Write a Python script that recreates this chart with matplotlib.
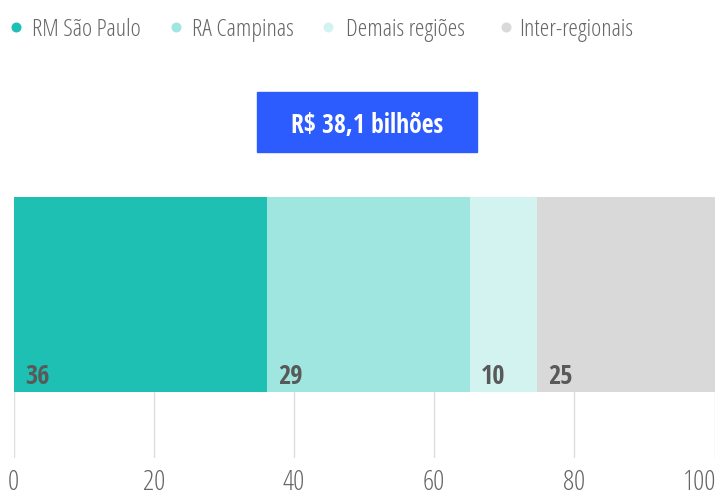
import matplotlib
matplotlib.use("Agg")
import matplotlib.pyplot as plt
from matplotlib import font_manager
from matplotlib.font_manager import FontProperties
from matplotlib.lines import Line2D
from matplotlib.transforms import blended_transform_factory

# dados do gráfico
categorias = ["RM São Paulo", "RA Campinas", "Demais regiões", "Inter-regionais"]
valores = [36.2, 28.9, 9.6, 25.3]
rotulos = ["36", "29", "10", "25"]
cores = ["#1dc0b2", "#a0e6e0", "#d3f3f0", "#d9d9d9"]
ticks = [0, 20, 40, 60, 80, 100]
total_txt = "R$ 38,1 bilhões"

W, H = 717, 493


def acha_fonte(arquivo, familia, peso):
    # procura o arquivo da fonte condensada; senão usa a família
    for f in font_manager.fontManager.ttflist:
        if f.fname.endswith(arquivo):
            return FontProperties(fname=f.fname)
    return FontProperties(family=familia, weight=peso)


fonte_leve = acha_fonte("OpenSans-CondLight.ttf", "Fira Sans Extra Condensed", "light")
fonte_negrito = acha_fonte("OpenSans-CondBold.ttf", "Fira Sans Extra Condensed", "bold")


def fp(base, tam):
    p = base.copy()
    p.set_size(tam)
    return p


fig = plt.figure(figsize=(W / 100, H / 100), dpi=100)
ax = fig.add_axes([13.7 / W, 1 - 458 / H, (714.6 - 13.7) / W, (458 - 197) / H])

base_barra = (458 - 392) / (458 - 197)
esq = 0
for v, c, r in zip(valores, cores, rotulos):
    ax.barh((base_barra + 1) / 2, v, left=esq, height=1 - base_barra, color=c, zorder=2)
    ax.text(esq + 1.6, (458 - 384.5) / (458 - 197), r, fontproperties=fp(fonte_negrito, 19),
            color="#595959", va="baseline", ha="left", zorder=3)
    esq += v

ax.set_xlim(0, 100)
ax.set_ylim(0, 1)
for t in ticks:
    ax.axvline(t, color="#dddddd", lw=1, zorder=1)
ax.set_xticks([])
ax.set_yticks([])
for s in ax.spines.values():
    s.set_visible(False)

# rótulos do eixo x (o último fica alinhado à direita, como no original)
trans = blended_transform_factory(ax.transData, fig.transFigure)
for t in ticks:
    alinh = "right" if t == ticks[-1] else "center"
    xt = t + 0.3 if t == ticks[-1] else t
    ax.text(xt, 1 - 490.5 / H, str(t), transform=trans, fontproperties=fp(fonte_leve, 20),
            color="#666666", ha=alinh, va="baseline", clip_on=False)

# legenda manual
pos_bola = [16, 176, 328, 506]
pos_txt = [32, 192, 346, 519]
for xb, xt, nome, c in zip(pos_bola, pos_txt, categorias, cores):
    fig.add_artist(Line2D([xb / W], [1 - 27 / H], marker="o", markersize=7.2, color=c,
                          markeredgewidth=0, transform=fig.transFigure))
    fig.text(xt / W, 1 - 36 / H, nome, color="#666666", fontproperties=fp(fonte_leve, 17.5),
             ha="left", va="baseline")

# caixa do total
fig.patches.append(plt.Rectangle((257 / W, 1 - 152.5 / H), 220 / W, 60.5 / H,
                                 transform=fig.transFigure, color="#2d5cfe", zorder=0))
fig.text(367 / W, 1 - 133.5 / H, total_txt, color="white", fontproperties=fp(fonte_negrito, 18.5),
         ha="center", va="baseline")

fig.savefig("out.png", dpi=100)
